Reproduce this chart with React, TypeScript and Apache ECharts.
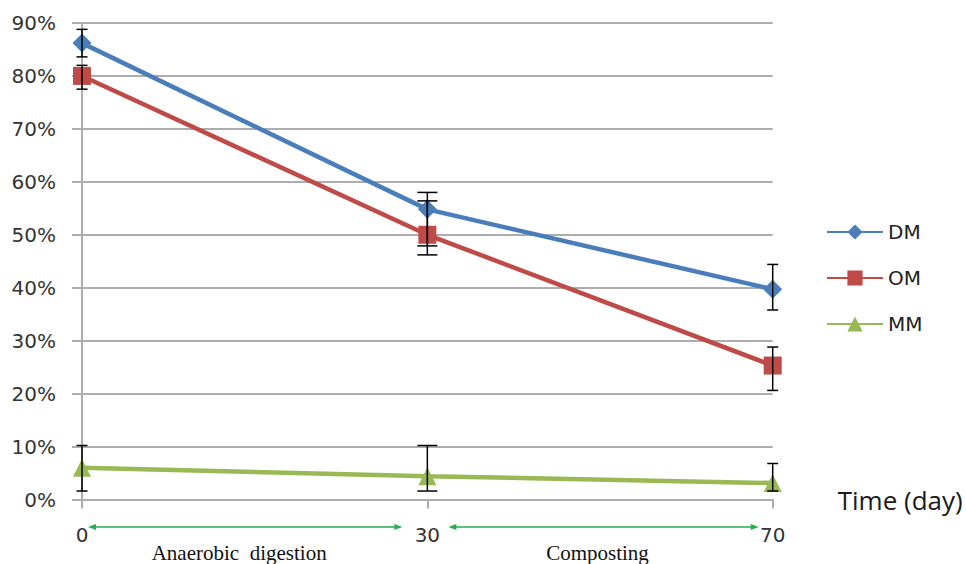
import React, { useEffect, useRef } from 'react';
import * as echarts from 'echarts';

const days = ['0', '30', '70'];
const seriesNames = ['DM', 'OM', 'MM'];
const dmValues = [86.2, 54.8, 39.7];
const omValues = [80.0, 50.0, 25.3];
const mmValues = [6.0, 4.4, 3.1];
const dmErrLow = [83.6, 47.9, 35.8];
const dmErrHigh = [88.8, 58.0, 44.4];
const omErrLow = [77.5, 46.2, 20.6];
const omErrHigh = [82.0, 56.4, 28.8];
const mmErrLow = [1.6, 1.6, 1.6];
const mmErrHigh = [10.2, 10.2, 6.8];
const phases = ['Anaerobic  digestion', 'Composting'];
const axisName = 'Time (day)';

const colors = ['#4A7EBB', '#BE4B48', '#98B954'];
const symbols = ['diamond', 'rect', 'triangle'];
const symbolSizes = [19, 18, 18];

export default function App() {
  const ref = useRef<HTMLDivElement>(null);
  useEffect(() => {
    if (!ref.current) return;
    const chart = echarts.init(ref.current, undefined, { renderer: 'svg' });
    const values = [dmValues, omValues, mmValues];
    const lows = [dmErrLow, omErrLow, mmErrLow];
    const highs = [dmErrHigh, omErrHigh, mmErrHigh];

    const lineSeries = seriesNames.map((name, s) => ({
      name,
      type: 'line',
      data: values[s],
      symbol: symbols[s],
      symbolSize: symbolSizes[s],
      showAllSymbol: true,
      itemStyle: { color: colors[s] },
      lineStyle: { color: colors[s], width: 4.5 },
      z: 2,
    }));

    const errSeries = seriesNames.map((name, s) => ({
      name: name + ' err',
      type: 'custom',
      z: 5,
      data: days.map((_, i) => [i, lows[s][i], highs[s][i]]),
      encode: { x: 0, y: [1, 2] },
      renderItem: (params: any, api: any) => {
        const idx = api.value(0);
        const lo = api.coord([idx, api.value(1)]);
        const hi = api.coord([idx, api.value(2)]);
        const half = idx === 1 ? 10 : 5.5;
        const st = { stroke: '#000', lineWidth: 1.5 };
        return {
          type: 'group',
          children: [
            { type: 'line', shape: { x1: lo[0], y1: lo[1], x2: hi[0], y2: hi[1] }, style: st },
            { type: 'line', shape: { x1: lo[0] - half, y1: lo[1], x2: lo[0] + half, y2: lo[1] }, style: st },
            { type: 'line', shape: { x1: hi[0] - half, y1: hi[1], x2: hi[0] + half, y2: hi[1] }, style: st },
          ],
        };
      },
    }));

    const gridColor = '#ADADAD';
    chart.setOption({
      animation: false,
      backgroundColor: '#fff',
      grid: { left: 82, right: 193.3, top: 23, bottom: 64.5 },
      legend: {
        data: seriesNames,
        orient: 'vertical',
        left: 826,
        top: 222,
        itemWidth: 56,
        itemHeight: 19,
        itemGap: 26,
        padding: 0,
        textStyle: { fontFamily: 'DejaVu Sans', fontSize: 20, color: '#222' },
      },
      xAxis: {
        type: 'category',
        data: days,
        boundaryGap: false,
        name: axisName,
        nameLocation: 'end',
        nameGap: 65,
        nameTextStyle: {
          fontFamily: 'Open Sans',
          fontSize: 26,
          color: '#1a1a1a',
          verticalAlign: 'middle',
          padding: [0, 0, 13, 0],
        },
        axisLine: { show: true, lineStyle: { color: gridColor, width: 2 } },
        axisTick: { show: true, alignWithLabel: true, inside: false, length: 9, lineStyle: { color: gridColor, width: 2 } },
        axisLabel: { fontFamily: 'DejaVu Sans', fontSize: 20, color: '#333', margin: 25 },
        splitLine: { show: false },
        splitArea: { show: false },
      },
      yAxis: {
        type: 'value',
        min: 0,
        max: 90,
        interval: 10,
        axisLine: { show: true, lineStyle: { color: gridColor, width: 2 } },
        axisTick: { show: true, length: 10, lineStyle: { color: gridColor, width: 2 } },
        axisLabel: { formatter: '{value}%', fontFamily: 'DejaVu Sans', fontSize: 20, color: '#333', margin: 26 },
        splitLine: { show: true, lineStyle: { color: gridColor, width: 2 } },
      },
      series: [...lineSeries, ...errSeries],
    });

    const px = days.map((_, i) => chart.convertToPixel({ gridIndex: 0 }, [i, 0]) as number[]);
    const y0 = px[0][1];
    const ay = y0 + 27.5;
    const green = '#22B14C';
    const arrows = [
      [px[0][0] + 6, px[1][0] - 25],
      [px[1][0] + 21, px[2][0] - 14],
    ];
    const graphics: any[] = [];
    arrows.forEach(([a, b], k) => {
      graphics.push({ type: 'line', shape: { x1: a + 4, y1: ay, x2: b - 4, y2: ay }, style: { stroke: green, lineWidth: 1.5 } });
      graphics.push({ type: 'polygon', shape: { points: [[a, ay], [a + 8, ay - 3], [a + 8, ay + 3]] }, style: { fill: green } });
      graphics.push({ type: 'polygon', shape: { points: [[b, ay], [b - 8, ay - 3], [b - 8, ay + 3]] }, style: { fill: green } });
      graphics.push({
        type: 'text',
        x: (a + b) / 2 - 6,
        y: y0 + 43,
        style: {
          text: phases[k],
          fontFamily: 'Liberation Serif',
          fontSize: 21,
          fill: '#111',
          textAlign: 'center',
          textVerticalAlign: 'top',
        },
      });
    });
    chart.setOption({ graphic: graphics });

    return () => chart.dispose();
  }, []);
  return <div ref={ref} style={{ position: 'fixed', left: 0, top: 0, width: 966, height: 564, background: '#fff' }} />;
}
